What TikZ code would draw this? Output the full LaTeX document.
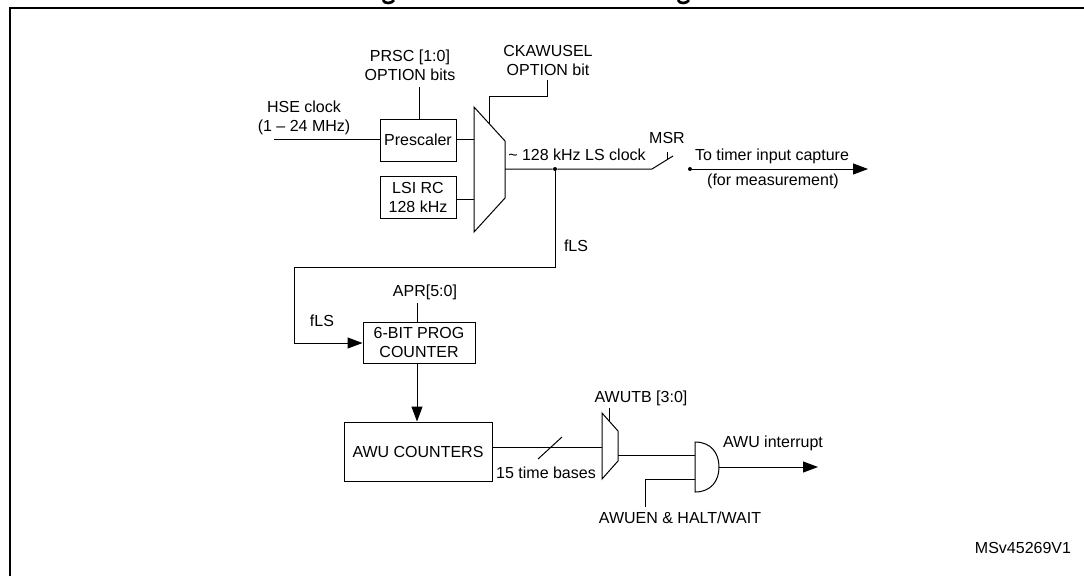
\documentclass[tikz,border=0pt]{standalone}
\usepackage{fontspec}
\setmainfont{Liberation Sans}
\usetikzlibrary{positioning,arrows.meta}
\tikzset{blk/.style={draw, inner sep=0pt, align=center, line width=0.75pt},
    lbl/.style={inner sep=0pt, align=center, font=\fontsize{12}{14.25}\selectfont},
    jdot/.style={circle, fill, inner sep=0pt, minimum size=3pt},
    wire/.style={line width=0.75pt},
    sig/.style={wire, -{Triangle[length=11.25pt,width=8.25pt]}},
    frameline/.style={line width=1.6pt}}

\begin{document}
\begin{tikzpicture}[x=0.75pt, y=-0.75pt]
    \useasboundingbox (0,0) rectangle (1084,576);

    % frame and what is left of the heading
    \coordinate (fa) at (10,576);
    \coordinate (fb) at (10,8);
    \coordinate (fc) at (1084,8);
    \draw[frameline] (fa) -- (fb) -- (fc);
    \draw[line width=2pt] (383,0) .. controls (384,4) and (392,4) .. (394,0);
    \draw[line width=2pt] (678,0) .. controls (679,4) and (687,4) .. (689,0);

    % clock sources
    \node[blk, lbl, minimum width=57pt, minimum height=31.5pt] (presc) at (418,140) {Prescaler};
    \node[blk, lbl, minimum width=57pt, minimum height=31.5pt, below=10.5pt of presc] (lsi) {LSI RC\\128 kHz};
    \node[lbl] (hse) at (304,118) {HSE clock\\(1 -- 24 MHz)};
    \node[lbl] (prsc) at (410,65) {PRSC [1:0]\\OPTION bits};
    \node[lbl] (cksel) at (548,60) {CKAWUSEL\\OPTION bit};
    \coordinate (hsein) at (274,139);
    \coordinate (prscin) at (419,87);

    % clock selector
    \coordinate (ma) at (474,107);
    \coordinate (mb) at (505,141);
    \coordinate (mc) at (505,198);
    \coordinate (md) at (474,232);
    \draw[wire] (ma) -- (mb) -- (mc) -- (md) -- cycle;
    \coordinate (mprsc) at (474,139);
    \coordinate (mlsi) at (474,199);
    \coordinate (mout) at (505,169);
    \coordinate (msel) at (489,123.5);
    \coordinate (cksela) at (547,80);

    \draw[wire] (hsein) -- (hsein -| presc.west);
    \draw[wire] (prscin) -- (prscin |- presc.north);
    \draw[wire] (mprsc -| presc.east) -- (mprsc);
    \draw[wire] (mlsi -| lsi.east) -- (mlsi);
    \draw[wire] (cksela) |- (489,96) -- (msel);

    % LS clock and switch
    \node[jdot] (tap) at (555,169) {};
    \coordinate (swa) at (652,169);
    \coordinate (swb) at (673,156);
    \coordinate (ticka) at (667,152);
    \coordinate (tickb) at (667,160);
    \node[jdot] (capt) at (690,169) {};
    \coordinate (captend) at (868,169);
    \draw[wire] (mout) -- (tap) -- (swa) -- (swb);
    \draw[wire] (ticka) -- (tickb);
    \draw[sig] (capt) -- (captend);
    \node[lbl, anchor=west] (lsclk) at (508,155) {\textasciitilde{} 128 kHz LS clock};
    \node[lbl] (msr) at (667,138) {MSR};
    \node[lbl] (timer) at (772,156) {To timer input capture};
    \node[lbl] (meas) at (773,181) {(for measurement)};

    % prog counter
    \node[blk, lbl, minimum width=84pt, minimum height=30.75pt] (prog) at (419,342.5) {6-BIT PROG\\COUNTER};
    \node[lbl] (apr) at (425,292) {APR[5:0]};
    \node[lbl] (fls) at (576,246) {fLS};
    \node[lbl] (flsb) at (322,321) {fLS};
    \coordinate (aprin) at (417,303);
    \coordinate (rta) at (555,267);
    \coordinate (rtb) at (294,267);
    \coordinate (rtc) at (294,343);
    \draw[sig] (tap) -- (rta) -- (rtb) -- (rtc) -- (rtc -| prog.west);
    \draw[wire] (aprin) -- (aprin |- prog.north);

    % counters
    \node[blk, lbl, minimum width=111pt, minimum height=44.25pt] (awu) at (418,451.5) {AWU COUNTERS};
    \coordinate (progout) at (417,363);
    \draw[sig] (progout) -- (progout |- awu.north);

    % time base selector
    \coordinate (na) at (602,413);
    \coordinate (nb) at (618,431);
    \coordinate (nc) at (618,461);
    \coordinate (nd) at (602,479);
    \draw[wire] (na) -- (nb) -- (nc) -- (nd) -- cycle;
    \coordinate (nin) at (602,447);
    \coordinate (slasha) at (538,459);
    \coordinate (slashb) at (562,437);
    \coordinate (awutba) at (609,408);
    \coordinate (awutbb) at (609,422);
    \draw[wire] (nin -| awu.east) -- (nin);
    \draw[wire] (slasha) -- (slashb);
    \draw[wire] (awutba) -- (awutbb);
    \node[lbl] (bases) at (546,473) {15 time bases};
    \node[lbl] (awutb) at (641,398) {AWUTB [3:0]};

    % output gate
    \coordinate (ga) at (695,442);
    \coordinate (gb) at (695,492);
    \coordinate (gc) at (719,467);
    \draw[wire] (ga) .. controls (711,442) and (719,453) .. (gc) .. controls (719,481) and (711,492) .. (gb) -- cycle;
    \coordinate (gin) at (695,455);
    \coordinate (nout) at (618,455);
    \coordinate (hin) at (695,479);
    \coordinate (hbend) at (645,479);
    \coordinate (hend) at (645,507);
    \coordinate (irq) at (818,467);
    \draw[wire] (nout) -- (gin);
    \draw[wire] (hin) -- (hbend) -- (hend);
    \draw[sig] (gc) -- (irq);
    \node[lbl] (irqtxt) at (773,443) {AWU interrupt};
    \node[lbl] (awuen) at (680,518) {AWUEN \& HALT/WAIT};
    \node[lbl] (ref) at (1023,548) {MSv45269V1};
\end{tikzpicture}
\end{document}
